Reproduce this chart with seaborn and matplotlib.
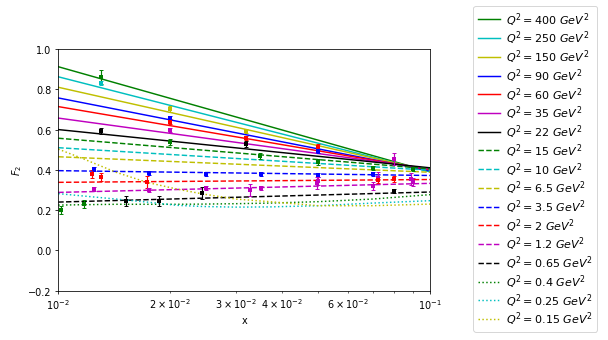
import numpy as np
import pandas as pd
import matplotlib
matplotlib.use("Agg")
import matplotlib.pyplot as plt
import seaborn as sns

# ---------------- data ----------------
q2_labels = ["400", "250", "150", "90", "60", "35", "22",
             "15", "10", "6.5", "3.5", "2", "1.2", "0.65",
             "0.4", "0.25", "0.15"]

# straight (in log x) curves: value at x=0.01 and x=0.1
line_x = [0.01, 0.1]
line_left = [0.912, 0.862, 0.810, 0.757, 0.714, 0.657, 0.600,
             0.557, 0.510, 0.465, 0.396, 0.338, 0.288, 0.240]
line_right = [0.390, 0.390, 0.395, 0.395, 0.400, 0.405, 0.410,
              0.405, 0.398, 0.388, 0.372, 0.352, 0.333, 0.290]

# low-Q2 curved (dotted) curves
curve_x = [0.01, 0.0117, 0.0143, 0.0173, 0.0208, 0.0245, 0.030, 0.037,
           0.05, 0.07, 0.1]
curve_04 = [0.225, 0.227, 0.229, 0.229, 0.229, 0.230, 0.232, 0.235,
            0.242, 0.255, 0.277]
curve_025 = [0.282, 0.270, 0.255, 0.240, 0.224, 0.218, 0.215, 0.216,
             0.222, 0.235, 0.247]
curve_015 = [0.503, 0.454, 0.388, 0.338, 0.305, 0.280, 0.255, 0.242,
             0.222, 0.222, 0.230]

# measured points
pt_x = [0.0102, 0.0117, 0.013, 0.020, 0.0349, 0.050, 0.070, 0.090,
        0.013,
        0.020, 0.032,
        0.0125, 0.0175, 0.025, 0.035, 0.020, 0.050, 0.050, 0.070,
        0.0123, 0.013, 0.0173, 0.020, 0.032, 0.050, 0.0725, 0.080,
        0.0125, 0.0175, 0.020, 0.025, 0.0328, 0.035, 0.0495, 0.050,
        0.0725, 0.070, 0.080, 0.089, 0.090,
        0.013, 0.0152, 0.0186, 0.0244, 0.032, 0.080]
pt_y = [0.202, 0.230, 0.860, 0.537, 0.467, 0.440, 0.410, 0.404,
        0.830,
        0.700, 0.594,
        0.404, 0.384, 0.379, 0.381, 0.656, 0.492, 0.376, 0.378,
        0.379, 0.363, 0.341, 0.640, 0.558, 0.512, 0.351, 0.355,
        0.305, 0.300, 0.600, 0.308, 0.300, 0.308, 0.333, 0.345,
        0.360, 0.321, 0.454, 0.355, 0.340,
        0.593, 0.245, 0.244, 0.283, 0.528, 0.293]
pt_err = [0.020, 0.020, 0.035, 0.015, 0.015, 0.015, 0.010, 0.010,
          0.010,
          0.015, 0.010,
          0.010, 0.010, 0.010, 0.010, 0.010, 0.010, 0.010, 0.010,
          0.020, 0.020, 0.030, 0.010, 0.010, 0.015, 0.015, 0.015,
          0.010, 0.010, 0.010, 0.010, 0.030, 0.010, 0.030, 0.020,
          0.030, 0.020, 0.030, 0.030, 0.020,
          0.015, 0.025, 0.025, 0.030, 0.015, 0.010]
pt_group = (["g"] * 8 + ["c"] * 1 + ["y"] * 2 + ["b"] * 8 + ["r"] * 8
            + ["m"] * 13 + ["k"] * 6)

# ---------------- styles ----------------
base_colors = ["g", "c", "y", "b", "r", "m", "k"]
line_colors = base_colors + base_colors
line_styles = ["-"] * 7 + ["--"] * 7
curve_colors = ["g", "c", "y"]

# ---------------- plot ----------------
fig = plt.figure(figsize=(608 / 70, 341 / 70), dpi=70)
ax = fig.add_axes([58.3 / 608, 1 - 291.7 / 341, (430.3 - 58.3) / 608,
                   (291.7 - 50) / 341])

for i in range(14):
    df = pd.DataFrame({"x": line_x, "F2": [line_left[i], line_right[i]]})
    sns.lineplot(data=df, x="x", y="F2", color=line_colors[i],
                 linestyle=line_styles[i], linewidth=1.5, ax=ax,
                 label=r"$Q^2 = %s\ GeV^2$" % q2_labels[i], legend=False)

for vals, col, lab in zip([curve_04, curve_025, curve_015], curve_colors,
                          q2_labels[14:]):
    df = pd.DataFrame({"x": curve_x, "F2": vals})
    sns.lineplot(data=df, x="x", y="F2", color=col, linestyle=":",
                 linewidth=1.5, ax=ax,
                 label=r"$Q^2 = %s\ GeV^2$" % lab, legend=False)

pts = pd.DataFrame({"x": pt_x, "F2": pt_y, "err": pt_err, "grp": pt_group})
for col, sub in pts.groupby("grp"):
    ax.errorbar(sub["x"], sub["F2"], yerr=sub["err"], fmt="none",
                ecolor=col, elinewidth=1.2, capsize=2)
    sns.scatterplot(data=sub, x="x", y="F2", color=col, marker="s",
                    s=22, linewidth=0, ax=ax, legend=False, zorder=3)

ax.set_xscale("log")
ax.set_xlim(0.01, 0.1)
ax.set_ylim(-0.2, 1.0)
ax.set_xlabel("x")
ax.set_ylabel(r"$F_2$")

h, l = ax.get_legend_handles_labels()
fig.legend(h, l, loc="upper left",
           bbox_to_anchor=(473.3 / 608, 1 - 6.7 / 341),
           borderaxespad=0, fontsize=11.5, labelspacing=0.1,
           handlelength=2.0, handletextpad=0.5, borderpad=0.4)

fig.savefig("out.png", dpi=70)
